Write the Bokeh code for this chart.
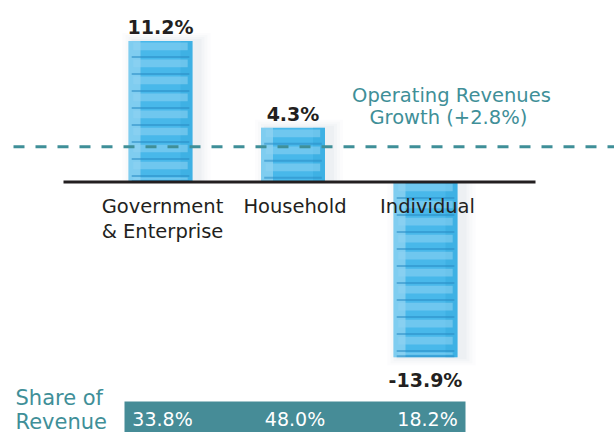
import numpy as np
from bokeh.plotting import figure
from bokeh.core.properties import value
from bokeh.embed import file_html
from bokeh.resources import INLINE

# ---------------- data ----------------
categories = ["Government & Enterprise", "Household", "Individual"]
category_lines = [["Government", "& Enterprise"], ["Household"], ["Individual"]]
growth = [11.2, 4.3, -13.9]
growth_labels = ["11.2%", "4.3%", "-13.9%"]
share = [33.8, 48.0, 18.2]
share_labels = ["33.8%", "48.0%", "18.2%"]
overall_growth = 2.8
overall_lines = ["Operating Revenues", "Growth  (+2.8%)"]
share_title_lines = ["Share of", "Revenue"]

# ---------------- layout constants (pixels) ----------------
W, H = 614, 432
PX_X = 132.5     # pixels per category step
PX_Y = 12.6      # pixels per percentage point
X0_PX = 160      # pixel position of first category centre
Y0_PX = 181.5    # pixel position (from top) of the zero line
TXT = 7          # text baseline correction (px, upward)

def dx(px):
    return px / PX_X

def dy(px):
    return px / PX_Y

x_start = -dx(X0_PX)
x_end = x_start + dx(W)
y_top = dy(Y0_PX)
y_bot = y_top - dy(H)

TEAL = "#3f8f98"
BAND = "#468c97"
INK = "#231f20"
FONT = value("DejaVu Sans")

p = figure(width=W, height=H, x_range=(x_start, x_end), y_range=(y_bot, y_top),
           output_backend="svg", toolbar_location=None, min_border=0,
           x_axis_location=None, y_axis_location=None)
p.grid.visible = False
p.outline_line_color = None
p.background_fill_color = "white"
p.border_fill_color = "white"

xs = np.arange(len(categories), dtype=float)
g = np.array(growth)
bw = dx(64)

# soft glow / shadow around bars
for k, a in enumerate([0.04, 0.05, 0.06, 0.07]):
    grow = dx(6 * (4 - k))
    p.vbar(x=xs + dx(6), top=g + np.sign(g) * dy(2 * (4 - k)), bottom=0,
           width=bw + grow, fill_color="#a9bcc6", fill_alpha=a, line_color=None)

# main bar body
p.vbar(x=xs, top=g, bottom=0, width=bw, fill_color="#48b8ea", line_color=None)
# right edge tone
p.vbar(x=xs + bw / 2 - dx(6), top=g, bottom=0, width=dx(12),
       fill_color="#2fa2da", fill_alpha=0.35, line_color=None)
# left soft edge
p.vbar(x=xs - bw / 2 + dx(6), top=g, bottom=0, width=dx(12),
       fill_color="#ffffff", fill_alpha=0.3, line_color=None)

# stripes (derived from each bar's value)
step = 1.35
lx, lt, lb, dxs, dt, db = [], [], [], [], [], []
for xi, v in zip(xs, g):
    n = int(abs(v) // step) + 1
    for k in range(n):
        if v > 0:
            seg_top = v - k * step
            seg_bot = max(seg_top - step, 0)
        else:
            seg_top = -k * step
            seg_bot = max(seg_top - step, v)
        hgt = seg_top - seg_bot
        if hgt < 0.3:
            continue
        lx.append(xi); lt.append(seg_top - 0.1 * hgt); lb.append(seg_top - 0.55 * hgt)
        dxs.append(xi); dt.append(seg_bot + dy(2)); db.append(seg_bot)

p.vbar(x=lx, top=lt, bottom=lb, width=bw * 0.85, fill_color="#8fd3f2",
       fill_alpha=0.55, line_color=None)
p.vbar(x=dxs, top=dt, bottom=db, width=bw * 0.9, fill_color="#2a8cc4",
       fill_alpha=0.55, line_color=None)

# zero line
p.segment(x0=[xs[0] - dx(97)], x1=[xs[-1] + dx(110)], y0=[0], y1=[0],
          line_color=INK, line_width=3)

# average growth dashed line
p.segment(x0=[x_start + dx(13)], x1=[x_end], y0=[overall_growth], y1=[overall_growth],
          line_color=TEAL, line_width=3, line_dash="11 11")

# growth value labels
lab_y = [v + dy(7 + TXT) if v > 0 else v - dy(30 - TXT) for v in growth]
p.text(x=xs, y=lab_y, text=growth_labels, text_font=FONT, text_font_style="bold",
       text_font_size="19px", text_color=INK, text_align="center",
       text_baseline="alphabetic")

# category labels
cx, cy, ct = [], [], []
for xi, lines in zip(xs, category_lines):
    for j, line in enumerate(lines):
        cx.append(xi + dx(2)); cy.append(-dy(31 - TXT + 25.5 * j)); ct.append(line)
p.text(x=cx, y=cy, text=ct, text_font=FONT, text_font_size="19.5px",
       text_color=INK, text_align="center", text_baseline="alphabetic")

# operating revenue growth annotation
ox = xs[-1] + dx(26)
oy = [overall_growth + dy(44 + TXT), overall_growth + dy(22 + TXT)]
p.text(x=[ox, ox], y=oy, text=overall_lines, text_font=FONT, text_font_size="19.5px",
       text_color=TEAL, text_align="center", text_baseline="alphabetic")

# share of revenue band
band_top = -dy(401 - Y0_PX)
p.quad(left=[xs[0] - dx(36)], right=[xs[-1] + dx(40)], top=[band_top], bottom=[y_bot - 1],
       fill_color=BAND, line_color=None)
share_y = [-dy(425 - TXT - Y0_PX)] * len(share)
p.text(x=xs + dx(2), y=share_y, text=share_labels, text_font=FONT, text_font_size="19px",
       text_color="white", text_align="center", text_baseline="alphabetic")

# share title
sx = x_start + dx(15)
sy = [-dy(404 - TXT - Y0_PX), -dy(428 - TXT - Y0_PX)]
p.text(x=[sx, sx], y=sy, text=share_title_lines, text_font=FONT, text_font_size="21px",
       text_color=TEAL, text_align="left", text_baseline="alphabetic")

open("out.html", "w").write(file_html(p, INLINE))
